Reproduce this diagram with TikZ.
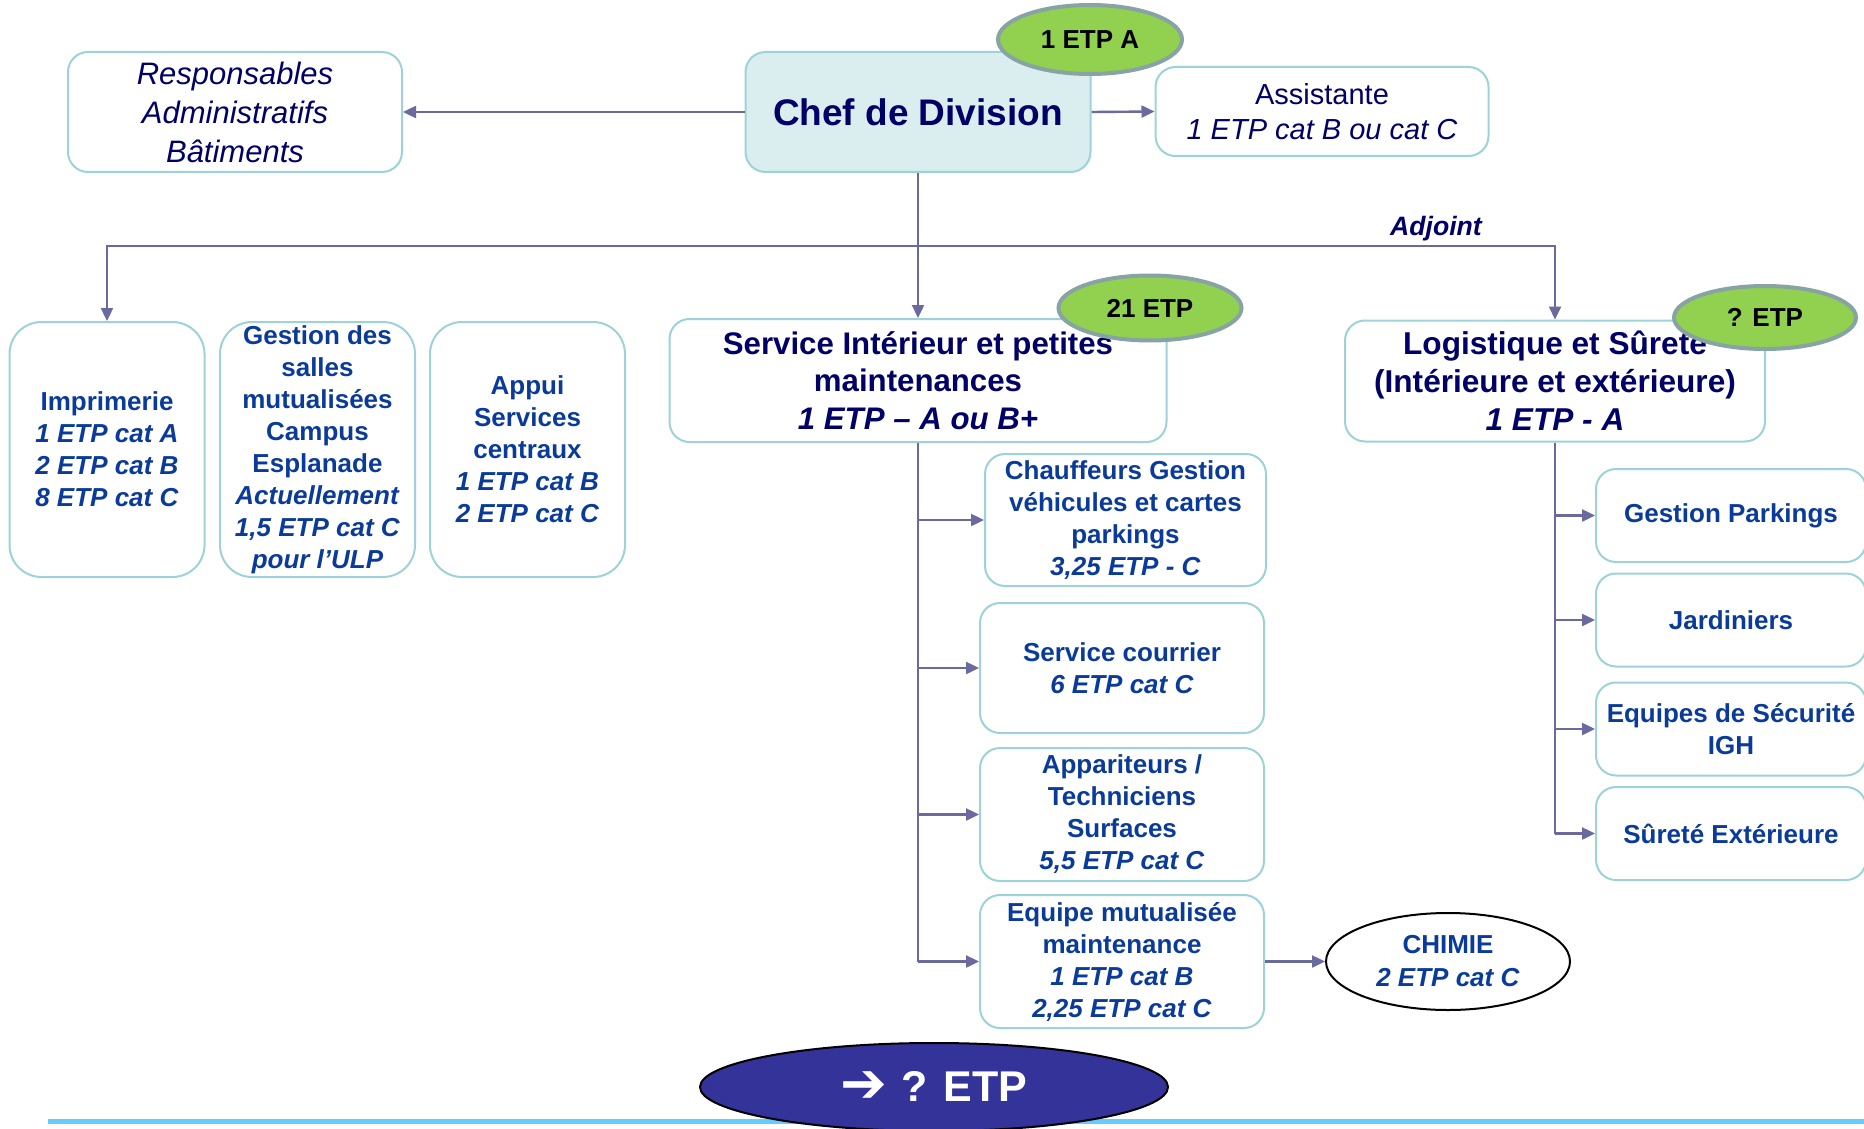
\documentclass[tikz,border=0pt]{standalone}
\usepackage{fontspec}
\setmainfont{Liberation Sans}
\newfontfamily\symfont{DejaVu Sans}
\usetikzlibrary{arrows.meta,shapes.geometric}

\definecolor{navy}{HTML}{000066}
\definecolor{deepblue}{HTML}{0A3B9A}
\definecolor{boxline}{HTML}{9DD3D8}
\definecolor{chefFill}{HTML}{DAEEF0}
\definecolor{linkcol}{HTML}{6A6A9E}
\definecolor{badgeFill}{HTML}{92D050}
\definecolor{badgeLine}{HTML}{87A3A3}
\definecolor{totalFill}{HTML}{333399}
\definecolor{ruleBlue}{HTML}{66CCFF}

\begin{document}
\begin{tikzpicture}[x=0.5pt,y=-0.5pt,
  box/.style={draw=boxline, line width=1pt, rounded corners=10pt, fill=white,
    align=center, inner sep=0pt},
  tallbox/.style={box, rounded corners=16pt, text=deepblue,
    font=\fontsize{13}{16}\selectfont\bfseries,
    minimum width=97.5pt, minimum height=127.5pt},
  unitbox/.style={box, text=deepblue, font=\fontsize{13}{16}\selectfont\bfseries},
  headbox/.style={box, text=navy, font=\fontsize{15.8}{18.9}\selectfont\bfseries},
  badge/.style={ellipse, draw=badgeLine, line width=2pt, fill=badgeFill,
    inner sep=0pt, font=\fontsize{13}{16}\selectfont\bfseries, text=black},
  link/.style={draw=linkcol, line width=1.2pt},
  conn/.style={link, -{Triangle[length=6.5pt,width=6pt]}},
]
\useasboundingbox (0,0) rectangle (1864,1129);

% ---- top level ----
\node[box, fill=chefFill, text=navy, font=\fontsize{18.5}{22}\selectfont\bfseries,
      minimum width=172.5pt, minimum height=60pt] (chef) at (918,112) {Chef de Division};
\node[box, text=navy, font=\fontsize{15.5}{19.5}\selectfont\itshape,
      minimum width=167pt, minimum height=60pt] (resp) at (235,112)
      {Responsables\\Administratifs\\Bâtiments};
\node[box, text=navy, font=\fontsize{14.5}{17.5}\selectfont,
      minimum width=166.5pt, minimum height=44.5pt] (assist) at (1322,111.5)
      {Assistante\\\textit{1 ETP cat B ou cat C}};
\node[badge, minimum width=92pt, minimum height=34.5pt] (etpA) at (1090,39.5) {1 ETP A};

% ---- second level ----
\node[tallbox] (impr) at (107,449.5)
  {Imprimerie\\\textit{1 ETP cat A}\\\textit{2 ETP cat B}\\\textit{8 ETP cat C}};
\node[tallbox] (salles) at (317.5,449.5)
  {Gestion des\\salles\\mutualisées\\Campus\\Esplanade\\\textit{Actuellement}\\\textit{1,5 ETP cat C}\\\textit{pour l\symbol{39}ULP}};
\node[tallbox] (appui) at (527.5,449.5)
  {Appui\\Services\\centraux\\\textit{1 ETP cat B}\\\textit{2 ETP cat C}};
\node[headbox, font=\fontsize{15.6}{18.7}\selectfont\bfseries,
      minimum width=248.5pt, minimum height=61.5pt] (sint) at (918,380.5)
  {Service Intérieur et petites\\maintenances\\\textit{1 ETP -- A ou B+}};
\node[headbox, minimum width=210pt, minimum height=60.5pt] (logis) at (1555,381)
  {Logistique et Sûrete\\(Intérieure et extérieure)\\\textit{1 ETP - A}};

% ---- units under the interior service ----
\node[unitbox, minimum width=140.5pt, minimum height=66pt] (chauf) at (1125.5,520)
  {Chauffeurs Gestion\\véhicules et cartes\\parkings\\\textit{3,25 ETP - C}};
\node[unitbox, minimum width=142pt, minimum height=65pt] (cour) at (1122,668)
  {Service courrier\\\textit{6 ETP cat C}};
\node[unitbox, minimum width=142pt, minimum height=66.5pt] (appar) at (1122,814.5)
  {Appariteurs /\\Techniciens\\Surfaces\\\textit{5,5 ETP cat C}};
\node[unitbox, minimum width=142pt, minimum height=66.5pt] (equipe) at (1122,961.5)
  {Equipe mutualisée\\maintenance\\\textit{1 ETP cat B}\\\textit{2,25 ETP cat C}};
\node[ellipse, draw=black, line width=1pt, fill=white, inner sep=0pt, align=center,
      text=deepblue, font=\fontsize{13}{16.5}\selectfont\bfseries,
      minimum width=122pt, minimum height=48.5pt] (chimie) at (1448,961.5)
  {CHIMIE\\\textit{2 ETP cat C}};

% ---- units under logistics ----
\node[unitbox, minimum width=135pt, minimum height=46.5pt] (park) at (1731,515.5) {Gestion Parkings};
\node[unitbox, minimum width=135pt, minimum height=46.5pt] (jard) at (1731,620) {Jardiniers};
\node[unitbox, minimum width=135pt, minimum height=46.5pt] (igh) at (1731,729)
  {Equipes de Sécurité\\IGH};
\node[unitbox, minimum width=135pt, minimum height=46.5pt] (surete) at (1731,833.5) {Sûreté Extérieure};

% ---- connectors ----
\draw[conn] (chef.west) -- (resp.east);
\draw[conn] (chef.east) -- (assist.west);
\coordinate (hub) at (918,246);
\draw[conn] (chef.south) -- (sint.north);
\draw[conn] (hub) -| (impr.north);
\draw[conn] (hub) -| (logis.north);
\node[text=navy, font=\fontsize{13.3}{16}\selectfont\bfseries\itshape] (adj) at (1436,229) {Adjoint};

\draw[link] (sint.south) -- (sint.south |- equipe.west);
\foreach \u in {chauf,cour,appar,equipe}
  \draw[conn] (sint.south |- \u.west) -- (\u.west);
\draw[conn] (equipe.east) -- (chimie.west);

\draw[link] (logis.south) -- (logis.south |- surete.west);
\foreach \u in {park,jard,igh,surete}
  \draw[conn] (logis.south |- \u.west) -- (\u.west);

% ---- staffing badges, on top of their boxes ----
\node[badge, minimum width=91.5pt, minimum height=32.5pt] (etp21) at (1150,308) {21 ETP};
\node[badge, minimum width=91pt, minimum height=31.5pt] (etpQ) at (1765,317.5) {? ETP};

% ---- footer ----
\coordinate (ruleL) at (48,1121);
\coordinate (ruleR) at (1864,1121);
\draw[ruleBlue, line width=2.5pt] (ruleL) -- (ruleR);
\node[ellipse, draw=black, line width=1pt, fill=totalFill, inner sep=0pt,
      text=white, font=\fontsize{21.5}{24}\selectfont\bfseries,
      minimum width=234pt, minimum height=44pt] (total) at (934,1087)
  {\raisebox{-0.5pt}{\scalebox{1.3}{\symfont\bfseries ➔}}\hspace{7pt}? ETP};
\end{tikzpicture}
\end{document}
